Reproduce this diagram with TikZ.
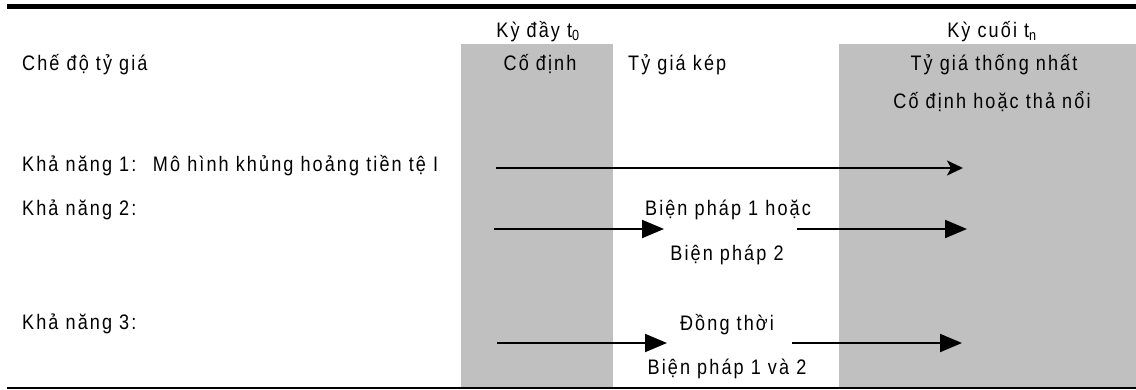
\documentclass[tikz,border=0pt]{standalone}
\usepackage{fontspec}
\setmainfont{Liberation Sans}[FakeStretch=0.86,LetterSpace=10]
\usetikzlibrary{arrows.meta}
\definecolor{bandgray}{RGB}{192,192,192}

\begin{document}
\begin{tikzpicture}[x=1pt,y=-1pt,
	lbl/.style={inner sep=0pt,font=\fontsize{21}{24}\selectfont},
	longarr/.style={-{Stealth[length=16pt,width=15pt,inset=4pt]},line width=2pt},
	shortarr/.style={-{Triangle[length=22pt,width=18pt]},line width=2pt}]
	
	\useasboundingbox (0,0) rectangle (1136,389);
	% periods
	\fill[bandgray] (461,44) rectangle (613,388);
	\fill[bandgray] (839,44) rectangle (1136,388);
	\draw[line width=5pt] (7,6.5) -- (1136,6.5);
	\draw[line width=1.5pt] (7,388) -- (1136,388);
	
	\node[lbl,anchor=base] (start) at (538,37) {Kỳ đầy t\textsubscript{0}};
	\node[lbl,anchor=base] (end) at (992,37) {Kỳ cuối t\textsubscript{n}};
	\node[lbl,anchor=base west] (regime) at (22,70) {Chế độ tỷ giá};
	\node[lbl,anchor=base] (fixed) at (540,70) {Cố định};
	\node[lbl,anchor=base west] (dual) at (628,70) {Tỷ giá kép};
	\node[lbl,anchor=base] (unified) at (994,70) {Tỷ giá thống nhất};
	\node[lbl,anchor=base] (fixfloat) at (992,108) {Cố định hoặc thả nổi};
	\node[lbl,anchor=base west] (case1) at (22,171) {Khả năng 1:~ Mô hình khủng hoảng tiền tệ I};
	\node[lbl,anchor=base west] (case2) at (22,215) {Khả năng 2:};
	\node[lbl,anchor=base] (m1or) at (728,215) {Biện pháp 1 hoặc};
	\node[lbl,anchor=base] (m2) at (727,260) {Biện pháp 2};
	\node[lbl,anchor=base west] (case3) at (22,329) {Khả năng 3:};
	\node[lbl,anchor=base] (both) at (727,330) {Đồng thời};
	\node[lbl,anchor=base] (m12) at (727,374) {Biện pháp 1 và 2};
	
	\coordinate (a1) at (496,168);
	\coordinate (b1) at (963,168);
	\coordinate (a2) at (494,229);
	\coordinate (c2) at (664,229);
	\coordinate (d2) at (797,229);
	\coordinate (b2) at (967,229);
	\coordinate (a3) at (497,343);
	\coordinate (c3) at (667,343);
	\coordinate (d3) at (792,343);
	\coordinate (b3) at (962,343);
	
	\draw[longarr] (a1) -- (b1);
	\path[shortarr]
	(a2) edge (c2)
	(d2) edge (b2)
	(a3) edge (c3)
	(d3) edge (b3)
	;
\end{tikzpicture}
\end{document}
